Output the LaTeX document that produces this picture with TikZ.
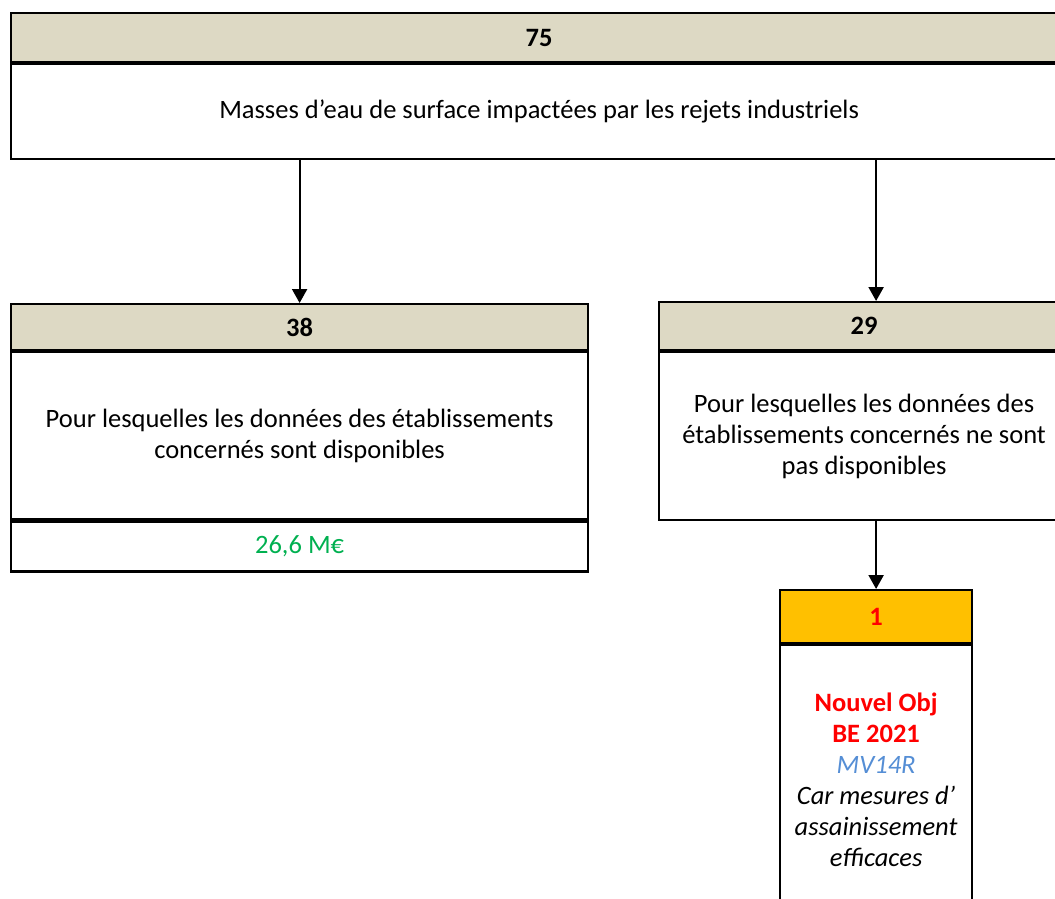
\documentclass[tikz,border=0pt]{standalone}
\usepackage{fontspec}
\setmainfont{Carlito}
\usetikzlibrary{arrows.meta}
\definecolor{headtan}{HTML}{DDD9C4}
\definecolor{headgold}{HTML}{FFC000}
\definecolor{alertred}{HTML}{FF0000}
\definecolor{costgreen}{HTML}{00B050}
\definecolor{codeblue}{HTML}{558ED5}
\tikzset{
  panel/.style={draw=black, line width=2.2pt, rectangle, inner sep=0pt,
    anchor=north west, align=center, font=\fontsize{26.5}{31}\selectfont},
  headpanel/.style={panel, fill=headtan, font=\bfseries\fontsize{26.5}{31}\selectfont},
  flow/.style={line width=2.2pt, -{Triangle[width=15pt,length=14pt]}}
}
\begin{document}
\begin{tikzpicture}[x=1pt,y=-1pt]
\path[use as bounding box, clip] (0,0) rectangle (1055,899);

% top box
\node[headpanel, minimum width=1056pt, minimum height=49pt] (h75) at (10,12) {75};
\node[panel, minimum width=1056pt, minimum height=95pt] (b75) at (h75.south west)
  {Masses d’eau de surface impactées par les rejets industriels};

% left box
\node[headpanel, minimum width=577pt, minimum height=46pt] (h38) at (10,303) {38};
\node[panel, minimum width=577pt, minimum height=167pt] (b38) at (h38.south west)
  {Pour lesquelles les données des établissements\\concernés sont disponibles};
\node[panel, minimum width=577pt, minimum height=50pt, text=costgreen] (f38) at (b38.south west)
  {26,6 M€};

% right box
\node[headpanel, minimum width=410pt, minimum height=48pt] (h29) at (658,301) {29};
\node[panel, minimum width=410pt, minimum height=168pt] (b29) at (h29.south west)
  {Pour lesquelles les données des\\établissements concernés ne sont\\pas disponibles};

% bottom right box
\node[headpanel, fill=headgold, text=alertred, minimum width=192pt, minimum height=53pt] (h1) at (779,589) {1};
\node[panel, minimum width=192pt, minimum height=268pt] (b1) at (h1.south west)
  {\textcolor{alertred}{\bfseries Nouvel Obj}\\
   \textcolor{alertred}{\bfseries BE 2021}\\
   \textcolor{codeblue}{\itshape MV14R}\\
   \itshape Car mesures d’\\
   \itshape assainissement\\
   \itshape efficaces};

% connectors
\draw[flow] (b75.south -| h38.north) -- (h38.north);
\draw[flow] (b75.south -| h1.north) -- (h29.north -| h1.north);
\draw[flow] (b29.south -| h1.north) -- (h1.north);
\end{tikzpicture}
\end{document}
